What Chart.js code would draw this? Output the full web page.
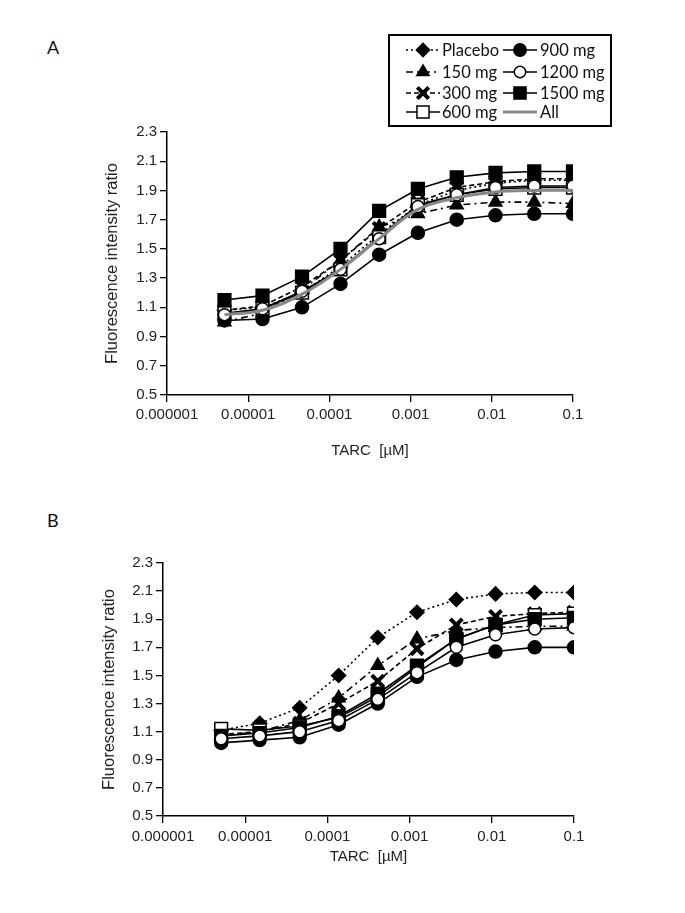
<!DOCTYPE html>
<html>
<head>
<meta charset="utf-8">
<script src="https://cdn.jsdelivr.net/npm/chart.js@4.4.1/dist/chart.umd.min.js"></script>
<style>
    body { margin: 0; background: #fff; width: 685px; height: 913px; position: relative; overflow: hidden; font-family: Lato, sans-serif; }
    canvas.full { position: absolute; left: 0; top: 0; }
    .panel { position: absolute; font-size: 18px; color: #111; }
    #legend { position: absolute; left: 388px; top: 34px; width: 220px; height: 89px; border: 2px solid #000; }
    .item { position: absolute; height: 22px; }
    .item canvas { position: absolute; left: 0; top: 0; }
    .item span { position: absolute; top: 0; line-height: 22px; font-size: 16.5px; color: #111; white-space: nowrap; }
</style>
</head>
<body>
<div class="panel" style="left:47px;top:36px;">A</div>
<div class="panel" style="left:47px;top:509px;">B</div>
<canvas id="chartA" class="full" width="685" height="913"></canvas>
<canvas id="chartB" class="full" width="685" height="913"></canvas>
<div id="legend"></div>

<script>
// TARC concentrations (3-fold dilutions down from 0.1 µM)
const conc = [0.0000051, 0.000015, 0.000046, 0.000137, 0.00041, 0.00123, 0.0037, 0.0111, 0.0333, 0.1];
const xTicks = [0.000001, 0.00001, 0.0001, 0.001, 0.01, 0.1];
const xTickLabels = ['0.000001', '0.00001', '0.0001', '0.001', '0.01', '0.1'];
const yTicks = [0.5, 0.7, 0.9, 1.1, 1.3, 1.5, 1.7, 1.9, 2.1, 2.3];
const groups = ['Placebo', '150 mg', '300 mg', '600 mg', '900 mg', '1200 mg', '1500 mg', 'All'];

// Panel A
const placeboA = [1.08, 1.10, 1.20, 1.38, 1.60, 1.80, 1.90, 1.95, 1.97, 1.97];
const mg150A   = [1.00, 1.06, 1.22, 1.42, 1.65, 1.74, 1.80, 1.82, 1.82, 1.81];
const mg300A   = [1.08, 1.11, 1.24, 1.42, 1.64, 1.82, 1.92, 1.96, 1.98, 1.98];
const mg600A   = [1.06, 1.09, 1.20, 1.36, 1.58, 1.80, 1.87, 1.91, 1.92, 1.92];
const mg900A   = [1.01, 1.02, 1.10, 1.26, 1.46, 1.61, 1.70, 1.73, 1.74, 1.74];
const mg1200A  = [1.05, 1.09, 1.21, 1.36, 1.57, 1.79, 1.87, 1.92, 1.93, 1.93];
const mg1500A  = [1.15, 1.18, 1.31, 1.50, 1.76, 1.91, 1.99, 2.02, 2.03, 2.03];
const allA     = [1.05, 1.08, 1.19, 1.36, 1.57, 1.77, 1.85, 1.89, 1.90, 1.90];

// Panel B
const placeboB = [1.11, 1.16, 1.27, 1.50, 1.77, 1.95, 2.04, 2.08, 2.09, 2.09];
const mg150B   = [1.07, 1.10, 1.18, 1.34, 1.57, 1.76, 1.82, 1.84, 1.85, 1.85];
const mg300B   = [1.08, 1.10, 1.16, 1.30, 1.46, 1.69, 1.86, 1.92, 1.94, 1.95];
const mg600B   = [1.12, 1.11, 1.14, 1.20, 1.35, 1.56, 1.76, 1.86, 1.93, 1.94];
const mg900B   = [1.02, 1.04, 1.06, 1.15, 1.30, 1.49, 1.61, 1.67, 1.70, 1.70];
const mg1200B  = [1.05, 1.07, 1.10, 1.18, 1.33, 1.52, 1.70, 1.79, 1.83, 1.84];
const mg1500B  = [1.07, 1.09, 1.13, 1.21, 1.37, 1.57, 1.76, 1.86, 1.90, 1.91];

const looks = {
    'Placebo': { pointStyle: 'rectRot', radius: 7, fill: '#000', dash: [2, 3], order: 7 },
    '150 mg':  { pointStyle: 'triangle', radius: 7.5, fill: '#000', dash: [7, 4, 2, 4], order: 6 },
    '300 mg':  { pointStyle: 'crossRot', radius: 8.5, fill: '#000', dash: [5, 3], pw: 4, order: 5 },
    '600 mg':  { pointStyle: 'rect', radius: 9, fill: '#fff', dash: [], order: 4 },
    '900 mg':  { pointStyle: 'circle', radius: 6.5, fill: '#000', dash: [], order: 3 },
    '1200 mg': { pointStyle: 'circle', radius: 6, fill: '#fff', dash: [], order: 1 },
    '1500 mg': { pointStyle: 'rect', radius: 9, fill: '#000', dash: [], order: 2 },
    'All':     { pointStyle: false, radius: 0, fill: '#888', color: '#888', dash: [], width: 3, tension: 0.4, order: 0 }
};

function dataset(name, values) {
    const s = looks[name];
    return {
        label: name,
        data: values.map((v, i) => ({ x: conc[i], y: v })),
        borderColor: s.color || '#000',
        borderWidth: s.width || 1.6,
        borderDash: s.dash,
        tension: s.tension || 0,
        pointStyle: s.pointStyle,
        pointRadius: s.radius,
        pointHoverRadius: s.radius,
        pointBackgroundColor: s.fill,
        pointBorderColor: '#000',
        pointBorderWidth: s.pw || 1.5,
        fill: false,
        order: s.order
    };
}

const tickFont = { family: 'Liberation Sans', size: 15 };
const yTitleFont = { family: 'Liberation Sans', size: 16.5 };

function makeChart(id, datasets, p) {
    new Chart(document.getElementById(id), {
        type: 'line',
        data: { datasets: datasets },
        options: {
            responsive: false,
            animation: false,
            layout: { padding: p.pad },
            plugins: { legend: { display: false }, tooltip: { enabled: false } },
            scales: {
                x: {
                    type: 'logarithmic',
                    min: 0.000001,
                    max: 0.1,
                    afterBuildTicks: s => { s.ticks = xTicks.map(v => ({ value: v })); },
                    afterFit: s => { s.height = p.xh; },
                    ticks: { autoSkip: false, maxRotation: 0, padding: p.xpad, color: '#222', font: tickFont,
                        callback: (v, i) => xTickLabels[i] },
                    grid: { drawOnChartArea: false, tickLength: 7, color: '#000', lineWidth: 1.3 },
                    border: { color: '#000', width: 1.5 },
                    title: { display: true, text: 'TARC  [µM]', color: '#222', font: tickFont,
                        padding: { top: 0, bottom: p.tpad } }
                },
                y: {
                    min: 0.5,
                    max: 2.3,
                    afterBuildTicks: s => { s.ticks = yTicks.map(v => ({ value: v })); },
                    afterFit: s => { s.width = p.yw; },
                    ticks: { padding: 3, color: '#222', font: tickFont, callback: v => v.toFixed(1) },
                    grid: { drawOnChartArea: false, tickLength: 7, color: '#000', lineWidth: 1.3 },
                    border: { color: '#000', width: 1.5 },
                    title: { display: true, text: 'Fluorescence intensity ratio', color: '#222', font: yTitleFont,
                        padding: { top: 4, bottom: 0 } }
                }
            }
        }
    });
}

makeChart('chartA', [
    dataset('Placebo', placeboA), dataset('150 mg', mg150A), dataset('300 mg', mg300A),
    dataset('600 mg', mg600A), dataset('900 mg', mg900A), dataset('1200 mg', mg1200A),
    dataset('1500 mg', mg1500A), dataset('All', allA)
], { pad: { left: 99, top: 132, right: 112, bottom: 913 - 395 - 70 }, xh: 70, yw: 68, xpad: 4, tpad: 5 });

makeChart('chartB', [
    dataset('Placebo', placeboB), dataset('150 mg', mg150B), dataset('300 mg', mg300B),
    dataset('600 mg', mg600B), dataset('900 mg', mg900B), dataset('1200 mg', mg1200B),
    dataset('1500 mg', mg1500B)
], { pad: { left: 96, top: 563, right: 111, bottom: 913 - 816 - 55 }, xh: 55, yw: 67, xpad: 5, tpad: 5 });

// Legend box (two columns, four rows)
const legendOrder = ['Placebo', '150 mg', '300 mg', '600 mg', '900 mg', '1200 mg', '1500 mg', 'All'];
const legend = document.getElementById('legend');
legendOrder.forEach((name, i) => {
    const col = Math.floor(i / 4), row = i % 4;
    const item = document.createElement('div');
    item.className = 'item';
    item.style.left = (col === 0 ? 16 : 113) + 'px';
    item.style.top = [3, 25, 46, 65][row] + 'px';
    const cv = document.createElement('canvas');
    cv.width = 34; cv.height = 22;
    const txt = document.createElement('span');
    txt.style.left = (col === 0 ? 36 : 37) + 'px';
    txt.textContent = name;
    item.appendChild(cv);
    item.appendChild(txt);
    legend.appendChild(item);

    const s = looks[name];
    const ctx = cv.getContext('2d');
    ctx.strokeStyle = s.color || '#000';
    ctx.lineWidth = s.width || 1.6;
    ctx.setLineDash(s.dash);
    ctx.beginPath();
    ctx.moveTo(0, 11);
    ctx.lineTo(34, 11);
    ctx.stroke();
    ctx.setLineDash([]);
    if (s.pointStyle) {
        ctx.fillStyle = s.fill;
        ctx.strokeStyle = '#000';
        ctx.lineWidth = s.pw || 1.5;
        Chart.helpers.drawPoint(ctx, { pointStyle: s.pointStyle, radius: s.radius * 0.95, rotation: 0, borderWidth: s.pw || 1.5 }, 17, 11);
    }
});
</script>
</body>
</html>
